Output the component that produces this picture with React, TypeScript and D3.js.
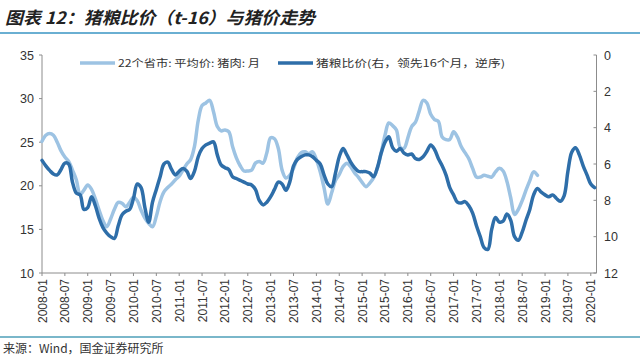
import React from "react";
import * as d3 from "d3";

const titleText = "图表 12：猪粮比价（t-16）与猪价走势";
const sourceText = "来源：Wind，国金证券研究所";
const lightName = "22个省市: 平均价: 猪肉: 月";
const darkName = "猪粮比价(右，领先16个月，逆序)";

const xTickLabels = [
  "2008-01","2008-07","2009-01","2009-07","2010-01","2010-07","2011-01","2011-07",
  "2012-01","2012-07","2013-01","2013-07","2014-01","2014-07","2015-01","2015-07",
  "2016-01","2016-07","2017-01","2017-07","2018-01","2018-07","2019-01","2019-07","2020-01",
];
const leftTicks = [10, 15, 20, 25, 30, 35];
const rightTicks = [0, 2, 4, 6, 8, 10, 12];

// monthly, starting 2008-01
const porkPrice = [
  25.1,25.8,26.0,25.8,25.0,24.0,23.3,22.8,21.8,20.7,19.0,19.5,
  20.1,19.6,18.5,17.2,16.0,15.3,16.2,17.3,18.1,18.0,17.6,18.1,
  18.7,18.3,17.2,16.3,15.7,15.3,16.5,18.2,19.3,19.8,20.2,20.7,
  21.1,21.8,22.5,23.0,24.5,27.5,29.2,29.5,29.8,28.5,26.8,26.3,
  26.4,26.2,24.5,23.2,22.3,21.7,21.7,21.8,22.6,22.8,22.6,23.8,
  25.5,25.4,24.3,21.8,20.9,21.2,22.0,23.2,23.8,23.9,23.7,23.9,
  23.0,21.6,19.8,17.9,19.2,20.6,21.3,22.2,22.6,22.2,21.5,21.0,
  20.4,19.9,20.3,20.9,22.0,23.8,25.8,27.2,26.9,26.4,24.4,24.3,
  25.5,26.8,27.3,28.6,29.8,29.5,28.2,27.6,27.4,25.6,25.3,25.3,
  26.2,25.6,24.5,23.8,23.1,22.0,21.0,21.0,21.2,21.1,21.0,21.6,
  22.0,21.7,20.5,18.6,16.7,17.3,18.3,19.5,20.6,21.6,21.2,
];

// monthly, starting 2008-01 (right axis, reversed)
const hogGrainRatio = [
  5.8,6.1,6.35,6.55,6.6,6.3,5.95,6.0,7.0,7.6,7.7,8.5,
  8.4,7.8,8.3,9.0,9.5,9.8,10.0,10.1,9.4,8.8,8.6,8.5,
  7.9,7.1,7.3,8.4,9.2,8.1,7.4,6.7,6.0,5.9,6.3,6.6,
  6.4,6.25,6.4,6.8,6.4,5.6,5.15,4.95,4.85,4.78,5.5,6.05,
  6.2,6.3,6.7,6.8,6.9,7.0,7.1,7.15,7.4,8.0,8.25,8.1,
  7.8,7.4,7.0,7.1,7.45,7.0,6.1,5.75,5.6,5.5,5.5,5.6,
  5.8,6.0,6.6,7.1,7.25,6.5,5.6,5.15,5.5,5.9,6.2,6.4,
  6.42,6.42,6.5,6.7,6.2,5.4,4.8,4.5,5.1,5.3,5.15,5.4,
  5.5,5.45,5.7,5.75,5.6,5.3,4.95,5.2,5.7,6.1,6.6,7.3,
  7.7,8.1,8.15,8.07,8.3,8.7,9.4,10.0,10.6,10.7,9.6,8.95,
  9.2,9.15,8.75,9.1,10.0,10.2,9.75,9.1,8.5,7.7,7.35,7.55,
  7.7,7.8,7.7,7.9,8.05,7.75,6.4,5.35,5.1,5.5,6.1,6.6,
  7.1,7.3,
];

const W = 640;
const H = 358;
const LIGHT = "#9DC3E3";
const DARK = "#2E6EA9";
const AXIS = "#8c8c8c";
const TXT = "#333333";

export default function App() {
  const x = d3.scaleLinear().domain([0, 145.5]).range([42, 596.5]);
  const yL = d3.scaleLinear().domain([10, 35]).range([273, 55]);
  const yR = d3.scaleLinear().domain([0, 12]).range([55, 273]);

  const lightLine = d3
    .line<number>()
    .x((_, i) => x(i))
    .y((d) => yL(d))
    .curve(d3.curveCatmullRom.alpha(0.5));
  const darkLine = d3
    .line<number>()
    .x((_, i) => x(i))
    .y((d) => yR(d))
    .curve(d3.curveCatmullRom.alpha(0.5));

  const axisFont = "'Liberation Sans', Arial, sans-serif";
  const cjkFont = "'Noto Sans CJK SC', sans-serif";

  return (
    <svg
      width={W}
      height={H}
      style={{ position: "absolute", left: 0, top: 0, background: "#fff" }}
    >
      <rect x={0} y={0} width={W} height={H} fill="#fff" />
      {/* title */}
      <text
        x={5}
        y={24}
        fontFamily={cjkFont}
        fontSize={17}
        fontWeight="bold"
        fontStyle="italic"
        fill="#222"
        textLength={310}
        lengthAdjust="spacingAndGlyphs"
      >
        {titleText}
      </text>
      <line x1={0} x2={W} y1={33} y2={33} stroke="#6AAFD2" strokeWidth={2} />

      {/* legend */}
      <line x1={80} x2={115} y1={63} y2={63} stroke={LIGHT} strokeWidth={3.5} />
      <text
        x={118}
        y={67}
        fontFamily={cjkFont}
        fontSize={10}
        fill={TXT}
        textLength={142}
        lengthAdjust="spacingAndGlyphs"
      >
        {lightName}
      </text>
      <line x1={278} x2={313} y1={63} y2={63} stroke={DARK} strokeWidth={3.5} />
      <text
        x={316}
        y={67}
        fontFamily={cjkFont}
        fontSize={10}
        fill={TXT}
        textLength={189}
        lengthAdjust="spacingAndGlyphs"
      >
        {darkName}
      </text>

      {/* left axis */}
      <line x1={42} x2={42} y1={55} y2={273} stroke={AXIS} strokeWidth={1} />
      {leftTicks.map((t) => (
        <g key={"l" + t}>
          <line x1={39} x2={42} y1={yL(t)} y2={yL(t)} stroke={AXIS} />
          <text
            x={34}
            y={yL(t) + 4.5}
            textAnchor="end"
            fontFamily={axisFont}
            fontSize={12.5}
            fill={TXT}
          >
            {t}
          </text>
        </g>
      ))}

      {/* right axis */}
      <line x1={596.5} x2={596.5} y1={55} y2={273} stroke={AXIS} strokeWidth={1} />
      {rightTicks.map((t) => (
        <g key={"r" + t}>
          <line x1={593.5} x2={596.5} y1={yR(t)} y2={yR(t)} stroke={AXIS} />
          <text
            x={604}
            y={yR(t) + 4.5}
            textAnchor="start"
            fontFamily={axisFont}
            fontSize={12.5}
            fill={TXT}
          >
            {t}
          </text>
        </g>
      ))}

      {/* x axis */}
      <line x1={42} x2={596.5} y1={273} y2={273} stroke={AXIS} strokeWidth={1} />
      {xTickLabels.map((lab, i) => {
        const xx = x(i * 6);
        return (
          <g key={lab}>
            <line x1={xx} x2={xx} y1={273} y2={276} stroke={AXIS} />
            <text
              transform={`translate(${xx + 4.5},279) rotate(-90)`}
              textAnchor="end"
              fontFamily={axisFont}
              fontSize={12}
              fill={TXT}
            >
              {lab}
            </text>
          </g>
        );
      })}

      {/* series */}
      <path
        d={lightLine(porkPrice) || ""}
        fill="none"
        stroke={LIGHT}
        strokeWidth={3.5}
        strokeLinejoin="round"
        strokeLinecap="round"
      />
      <path
        d={darkLine(hogGrainRatio) || ""}
        fill="none"
        stroke={DARK}
        strokeWidth={3.5}
        strokeLinejoin="round"
        strokeLinecap="round"
      />

      {/* footer */}
      <line x1={0} x2={W} y1={337} y2={337} stroke="#4E9FB8" strokeWidth={1.5} />
      <text x={3} y={353} fontFamily={cjkFont} fontSize={12} fill={TXT}>
        {sourceText}
      </text>
    </svg>
  );
}
